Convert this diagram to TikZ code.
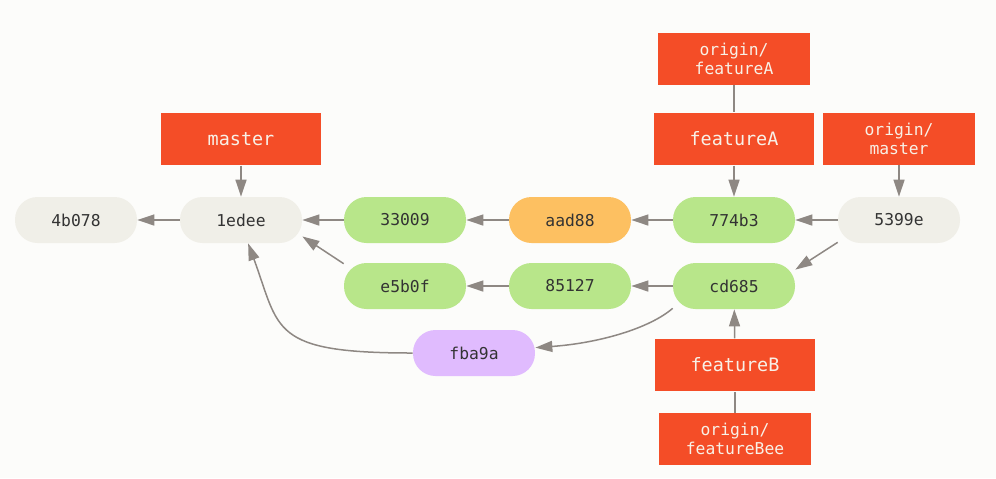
\documentclass[tikz,border=0pt]{standalone}
\usepackage{fontspec}
\setmonofont{DejaVu Sans Mono}
\usetikzlibrary{arrows.meta}
\definecolor{bg}{HTML}{FCFCFA}
\definecolor{branchred}{HTML}{F44D27}
\definecolor{branchtext}{HTML}{F8F1E7}
\definecolor{commitgray}{HTML}{F0EFE8}
\definecolor{commitgreen}{HTML}{B8E68A}
\definecolor{commitorange}{HTML}{FDC061}
\definecolor{commitpurple}{HTML}{E0BBFE}
\definecolor{committext}{HTML}{333333}
\definecolor{arrowgray}{HTML}{8E8883}

\begin{document}
\begin{tikzpicture}[x=0.02cm,y=-0.02cm,
    commit/.style={rounded corners=0.45cm,minimum width=2.44cm,minimum height=0.92cm,inner sep=0pt,
      text=committext,font=\ttfamily\fontsize{9.3}{11}\selectfont},
    branch/.style={fill=branchred,minimum width=3.2cm,minimum height=1.05cm,inner sep=0pt,
      text=branchtext,font=\ttfamily\fontsize{10.5}{12}\selectfont},
    remote/.style={branch,minimum width=3.05cm,minimum height=1.04cm,align=center,
      font=\ttfamily\fontsize{9.3}{10.8}\selectfont},
    link/.style={draw=arrowgray,line width=0.03cm},
    parent/.style={link,-{Triangle[length=0.34cm,width=0.22cm]}}]
    \fill[bg] (0,0) rectangle (996,478);
    % commits
    \foreach \name/\x/\y/\col in {4b078/76/220/commitgray,1edee/241/220/commitgray,
        33009/405/220/commitgreen,aad88/570/220/commitorange,774b3/734/220/commitgreen,
        5399e/899/220/commitgray,e5b0f/405/286/commitgreen,85127/570/286/commitgreen,
        cd685/734/286/commitgreen,fba9a/474/353/commitpurple} {
        \node[commit,fill=\col] (c\name) at (\x,\y) {\name};
    }
    % branches
    \node[branch] (master) at (241,139) {master};
    \node[remote] (ofeatureA) at (734,59) {origin/\\featureA};
    \node[branch] (featureA) at (734,139) {featureA};
    \node[remote] (omaster) at (899,139) {origin/\\master};
    \node[branch] (featureB) at (735,365) {featureB};
    \node[remote] (ofeatureBee) at (735,439) {origin/\\featureBee};
    % history
    \draw[parent] (c1edee) -- (c4b078);
    \draw[parent] (c33009) -- (c1edee);
    \draw[parent] (caad88) -- (c33009);
    \draw[parent] (c774b3) -- (caad88);
    \draw[parent] (c5399e) -- (c774b3);
    \draw[parent] (c5399e.200) -- (ccd685.15);
    \draw[parent] (ccd685) -- (c85127);
    \draw[parent] (c85127) -- (ce5b0f);
    \draw[parent] (ce5b0f.160) -- (c1edee.-15);
    \draw[parent] (ccd685.200) .. controls (650,328) and (600,343) .. (cfba9a.5);
    \draw[parent] (cfba9a.west) .. controls (270,353) and (280,330) .. (c1edee.-73);
    % refs
    \draw[parent] (master) -- (c1edee);
    \draw[parent] (featureA) -- (c774b3);
    \draw[parent] (omaster) -- (c5399e);
    \draw[parent] (featureB) -- (ccd685);
    \draw[link] (ofeatureA) -- (featureA);
    \draw[link] (ofeatureBee) -- (featureB);
\end{tikzpicture}
\end{document}
